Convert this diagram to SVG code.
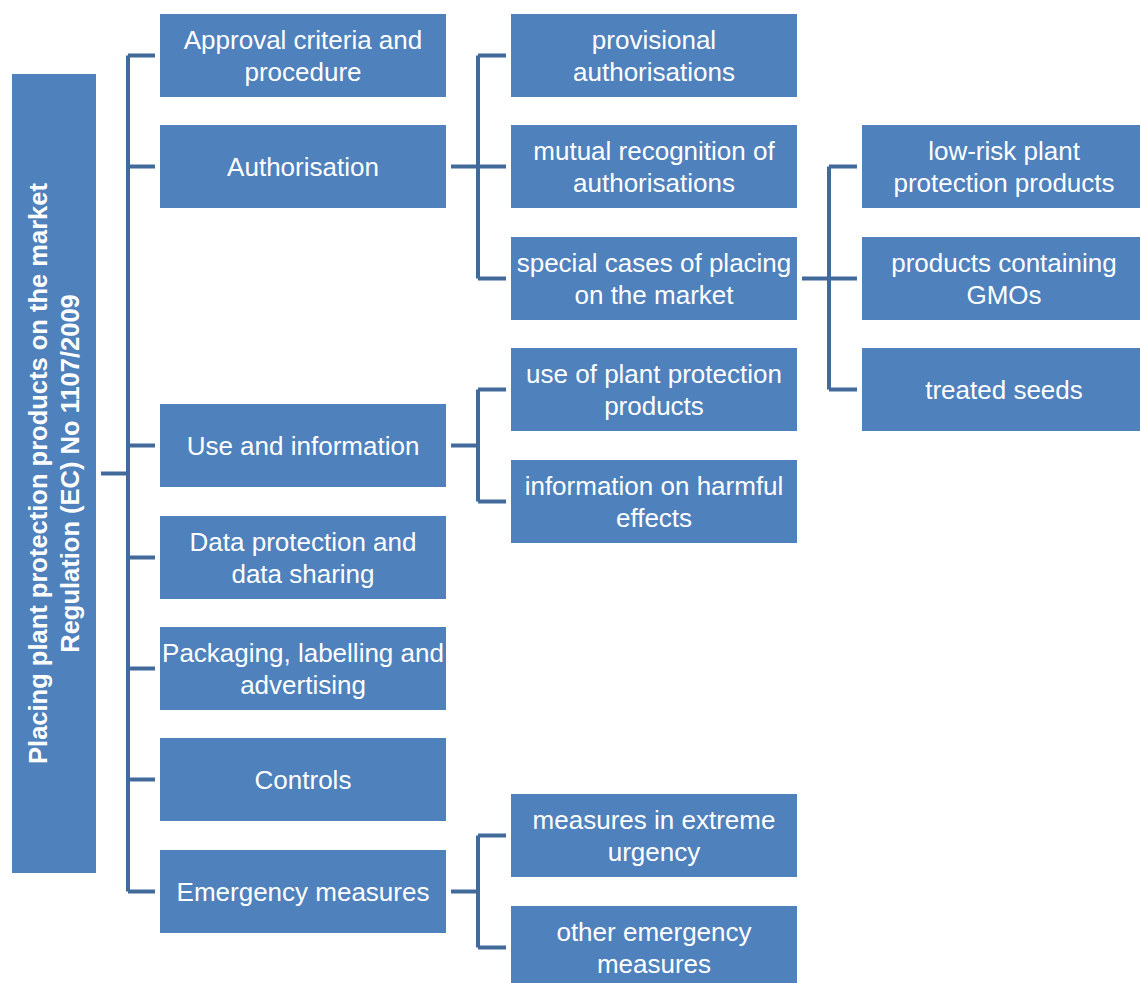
<svg xmlns="http://www.w3.org/2000/svg" width="1140" height="983" viewBox="0 0 1140 983">
<style>
.b{fill:#4F81BD}
.t{font-family:"Liberation Sans",Arial,sans-serif;font-size:26px;fill:#fff;text-anchor:middle;dominant-baseline:central}
.r{font-family:"Liberation Sans",Arial,sans-serif;font-size:25.5px;font-weight:bold;fill:#fff;text-anchor:middle;dominant-baseline:central}
.c{fill:none;stroke:#41699A;stroke-width:4}
</style>
<rect width="1140" height="983" fill="#fff"/>
<g id="connectors">
<path class="c" d="M101 473.5H128M128 55.5V891.5M128 55.5H155M128 166.5H155M128 445.5H155M128 557.5H155M128 668.5H155M128 779.5H155M128 891.5H155"/>
<path class="c" d="M451 166.5H478M478 55.5V278.5M478 55.5H506M478 166.5H506M478 278.5H506"/>
<path class="c" d="M451 445.5H478M478 389.5V501.5M478 389.5H506M478 501.5H506"/>
<path class="c" d="M451 891.5H478M478 835.5V947.5M478 835.5H506M478 947.5H506"/>
<path class="c" d="M802 278.5H829M829 166.5V389.5M829 166.5H857M829 278.5H857M829 389.5H857"/>
</g>
<g id="root"><rect class="b" x="12" y="74" width="84" height="799"/>
<text class="r" transform="translate(54 473.5) rotate(-90)"><tspan x="0" y="-16">Placing plant protection products on the market</tspan><tspan x="0" y="16">Regulation (EC) No 1107/2009</tspan></text></g>
<g id="approval"><rect class="b" x="160" y="14" width="286" height="83"/><text class="t"><tspan x="303" y="39.5">Approval criteria and</tspan><tspan x="303" y="71.5">procedure</tspan></text></g>
<g id="authorisation"><rect class="b" x="160" y="125" width="286" height="83"/><text class="t" x="303" y="166.5">Authorisation</text></g>
<g id="use"><rect class="b" x="160" y="404" width="286" height="83"/><text class="t" x="303" y="445.5">Use and information</text></g>
<g id="data"><rect class="b" x="160" y="516" width="286" height="83"/><text class="t"><tspan x="303" y="541.5">Data protection and</tspan><tspan x="303" y="573.5">data sharing</tspan></text></g>
<g id="packaging"><rect class="b" x="160" y="627" width="286" height="83"/><text class="t"><tspan x="303" y="652.5">Packaging, labelling and</tspan><tspan x="303" y="684.5">advertising</tspan></text></g>
<g id="controls"><rect class="b" x="160" y="738" width="286" height="83"/><text class="t" x="303" y="779.5">Controls</text></g>
<g id="emergency"><rect class="b" x="160" y="850" width="286" height="83"/><text class="t" x="303" y="891.5">Emergency measures</text></g>
<g id="provisional"><rect class="b" x="511" y="14" width="286" height="83"/><text class="t"><tspan x="654" y="39.5">provisional</tspan><tspan x="654" y="71.5">authorisations</tspan></text></g>
<g id="mutual"><rect class="b" x="511" y="125" width="286" height="83"/><text class="t"><tspan x="654" y="150.5">mutual recognition of</tspan><tspan x="654" y="182.5">authorisations</tspan></text></g>
<g id="special"><rect class="b" x="511" y="237" width="286" height="83"/><text class="t"><tspan x="654" y="262.5">special cases of placing</tspan><tspan x="654" y="294.5">on the market</tspan></text></g>
<g id="useofppp"><rect class="b" x="511" y="348" width="286" height="83"/><text class="t"><tspan x="654" y="373.5">use of plant protection</tspan><tspan x="654" y="405.5">products</tspan></text></g>
<g id="harmful"><rect class="b" x="511" y="460" width="286" height="83"/><text class="t"><tspan x="654" y="485.5">information on harmful</tspan><tspan x="654" y="517.5">effects</tspan></text></g>
<g id="extreme"><rect class="b" x="511" y="794" width="286" height="83"/><text class="t"><tspan x="654" y="819.5">measures in extreme</tspan><tspan x="654" y="851.5">urgency</tspan></text></g>
<g id="otheremergency"><rect class="b" x="511" y="906" width="286" height="83"/><text class="t"><tspan x="654" y="931.5">other emergency</tspan><tspan x="654" y="963.5">measures</tspan></text></g>
<g id="lowrisk"><rect class="b" x="862" y="125" width="286" height="83"/><text class="t"><tspan x="1004" y="150.5">low-risk plant</tspan><tspan x="1004" y="182.5">protection products</tspan></text></g>
<g id="gmos"><rect class="b" x="862" y="237" width="286" height="83"/><text class="t"><tspan x="1004" y="262.5">products containing</tspan><tspan x="1004" y="294.5">GMOs</tspan></text></g>
<g id="seeds"><rect class="b" x="862" y="348" width="286" height="83"/><text class="t" x="1004" y="389.5">treated seeds</text></g>
</svg>
